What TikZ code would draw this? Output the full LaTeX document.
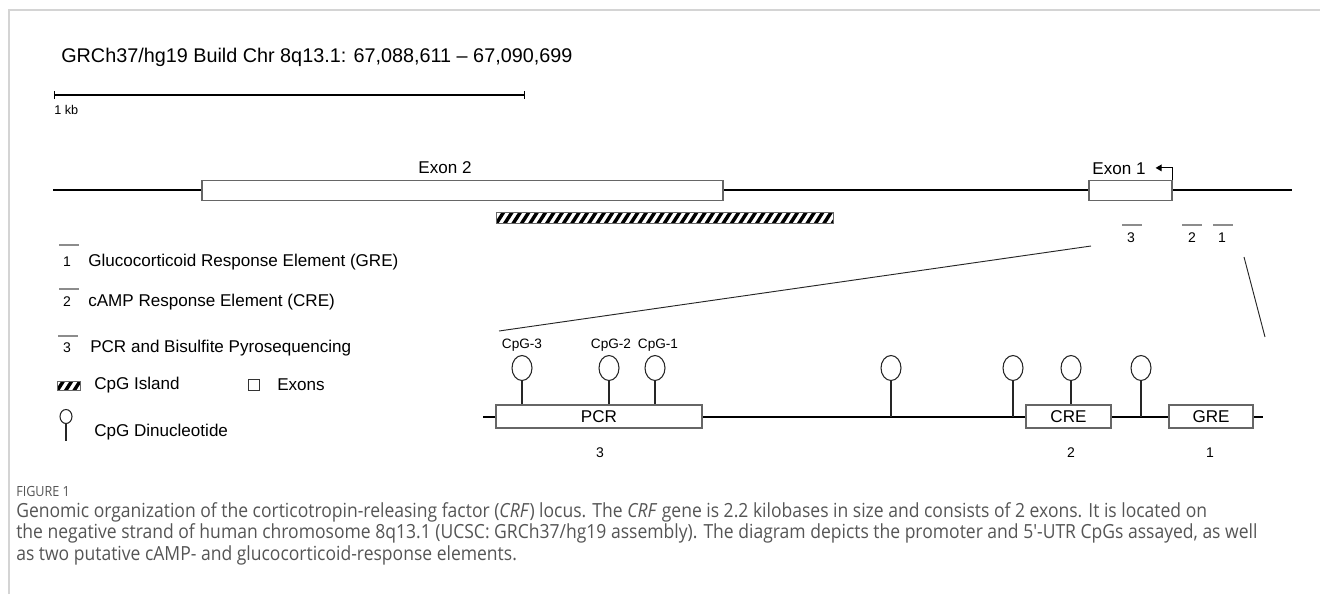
\documentclass[tikz,border=0pt]{standalone}
\usepackage{fontspec}
\setmainfont{Liberation Sans}
\newfontfamily\capfont[FakeStretch=0.9]{Open Sans}
\usetikzlibrary{arrows.meta, shapes.geometric}

\definecolor{framegray}{HTML}{D4D4D4}
\definecolor{boxgray}{HTML}{666666}
\definecolor{sitegray}{HTML}{8C8C8C}
\definecolor{capgray}{HTML}{555555}

\newcommand{\upx}{0.75pt}
% hatched CpG island: left, top, right, bottom
\newcommand{\hatchrect}[4]{%
  \begin{scope}
    \clip (#1,#2) rectangle (#3,#4);
    \fill[white] (#1,#2) rectangle (#3,#4);
    \foreach \hs in {-2,...,42}
      \draw[line width=2.6pt] (#1+\hs*8.4,#4+1) -- (#1+\hs*8.4+0.7*#4-0.7*#2+0.7,#2-1);
  \end{scope}
  \draw[boxgray, line width=0.6pt] (#1,#2) rectangle (#3,#4);}

\begin{document}
\begin{tikzpicture}[x=0.75pt, y=-0.75pt,
    chrom/.style={line width=1.3pt, black},
    track/.style={line width=0.9pt, black},
    exonbox/.style={draw=boxgray, line width=0.9pt, fill=white, inner sep=0pt, minimum height=20*\upx},
    regbox/.style={draw=boxgray, line width=0.9pt, fill=white, inner sep=0pt, minimum height=23*\upx, font=\fontsize{12.8}{14}\selectfont},
    cpgdot/.style={ellipse, draw=black!85, line width=0.8pt, fill=white, inner sep=0pt, minimum width=20*\upx, minimum height=25*\upx},
    stem/.style={line width=0.9pt, black!85},
    sitebar/.style={line width=2.2pt, sitegray},
    zoomline/.style={line width=0.7pt, black!85},
    lbl/.style={inner sep=0pt, font=\fontsize{12.8}{15}\selectfont},
    num/.style={inner sep=0pt, font=\fontsize{10.5}{12}\selectfont},
    cpglbl/.style={inner sep=0pt, font=\fontsize{10.2}{12}\selectfont},
  ]
  \useasboundingbox (0,0) rectangle (1320,594);
  \draw[framegray, line width=1.5pt] (9,594) -- (9,9.5) -- (1320,9.5);

  % header and scale bar
  \node[anchor=base west, inner sep=0pt, font=\fontsize{14.85}{17}\selectfont] (title) at (61,62)
    {GRCh37/hg19 Build Chr 8q13.1: 67,088,611 -- 67,090,699};
  \coordinate (kbL) at (54,95);
  \coordinate (kbR) at (525,95);
  \draw[line width=0.8pt, {Bar[width=5.5pt]}-{Bar[width=5.5pt]}] (kbL) -- (kbR);
  \node[anchor=west, inner sep=0pt, font=\fontsize{9.5}{11}\selectfont] (kb) at (54,110) {1 kb};

  % chromosome
  \coordinate (chrL) at (53,190);
  \coordinate (chrR) at (1292,190);
  \draw[chrom] (chrL) -- (chrR);
  \node[exonbox, minimum width=521*\upx] (exontwo) at (462.5,190.5) {};
  \node[exonbox, minimum width=83*\upx] (exonone) at (1130.5,190.5) {};
  \node[lbl] (exontwolbl) at (445,168) {Exon 2};
  \node[lbl] (exononelbl) at (1119,169) {Exon 1};
  \draw[line width=0.8pt, -{Triangle[length=4.5pt, width=5pt]}] (exonone.north east) -- ++(0,-12) -- ++(-17,0);
  \hatchrect{496}{212}{833}{223}

  % response elements on the chromosome
  \draw[sitebar] (1122,225) -- (1142,225);
  \draw[sitebar] (1182,225) -- (1202,225);
  \draw[sitebar] (1213,225) -- (1233,225);
  \node[num] (sitethree) at (1131,238) {3};
  \node[num] (sitetwo) at (1192,238) {2};
  \node[num] (siteone) at (1222,238) {1};

  % zoom lines
  \coordinate (zoomL) at (1091,246);
  \coordinate (zoomLb) at (499,331);
  \coordinate (zoomR) at (1244,257);
  \coordinate (zoomRb) at (1265,337);
  \draw[zoomline] (zoomL) -- (zoomLb);
  \draw[zoomline] (zoomR) -- (zoomRb);

  % promoter track
  \coordinate (trackL) at (483,417);
  \coordinate (trackR) at (1263,417);
  \draw[track] (trackL) -- (trackR);
  \node[regbox, minimum width=206*\upx] (pcr) at (599,416.5) {PCR};
  \node[regbox, minimum width=85*\upx] (cre) at (1068.5,416.5) {CRE};
  \node[regbox, minimum width=84*\upx] (gre) at (1211,416.5) {GRE};
  \node[num] (pcrnum) at (600,453) {3};
  \node[num] (crenum) at (1071,453) {2};
  \node[num] (grenum) at (1210,453) {1};

  % CpG sites
  \node[cpgdot] (cpgthree) at (522,368) {};
  \node[cpgdot] (cpgtwo) at (609,368) {};
  \node[cpgdot] (cpgone) at (655,368) {};
  \node[cpgdot] (cpgd) at (891,368) {};
  \node[cpgdot] (cpge) at (1013,368) {};
  \node[cpgdot] (cpgf) at (1071,368) {};
  \node[cpgdot] (cpgg) at (1141,368) {};
  \draw[stem] (cpgthree) -- (cpgthree |- pcr.north);
  \draw[stem] (cpgtwo) -- (cpgtwo |- pcr.north);
  \draw[stem] (cpgone) -- (cpgone |- pcr.north);
  \draw[stem] (cpgd) -- (cpgd |- trackL);
  \draw[stem] (cpge) -- (cpge |- trackL);
  \draw[stem] (cpgf) -- (cpgf |- cre.north);
  \draw[stem] (cpgg) -- (cpgg |- trackL);
  \node[cpglbl] (cpgthreelbl) at (522,345) {CpG-3};
  \node[cpglbl] (cpgtwolbl) at (611,345) {CpG-2};
  \node[cpglbl] (cpgonelbl) at (658,345) {CpG-1};

  % legend
  \draw[sitebar] (59,245) -- (79,245);
  \node[num] (legone) at (67,262) {1};
  \node[lbl, anchor=west] (legonetxt) at (88,262) {Glucocorticoid Response Element (GRE)};
  \draw[sitebar] (59,289) -- (79,289);
  \node[num] (legtwo) at (67,302) {2};
  \node[lbl, anchor=west] (legtwotxt) at (88,302) {cAMP Response Element (CRE)};
  \draw[sitebar] (58,336) -- (78,336);
  \node[num] (legthree) at (67,348) {3};
  \node[lbl, anchor=west] (legthreetxt) at (90,348) {PCR and Bisulfite Pyrosequencing};
  \hatchrect{57}{381}{80}{390}
  \node[lbl, anchor=west] (legisland) at (94,385) {CpG Island};
  \node[draw=black!80, line width=0.7pt, inner sep=0pt, minimum size=11*\upx] (legexon) at (253.5,384.5) {};
  \node[lbl, anchor=west] (legexontxt) at (277,385) {Exons};
  \node[cpgdot, minimum width=12*\upx, minimum height=14*\upx] (legdot) at (66,416.5) {};
  \coordinate (legstem) at (66,441);
  \draw[stem] (legdot) -- (legstem);
  \node[lbl, anchor=west] (legdottxt) at (94,432) {CpG Dinucleotide};

  % caption
  \node[anchor=west, inner sep=0pt, font=\capfont\fontsize{10.5}{12}\selectfont, text=capgray] (figlbl) at (16,491) {FIGURE 1};
  \node[anchor=north west, inner sep=0pt, align=left, font=\capfont\fontsize{14.6}{16.2}\selectfont, text=capgray] (caption) at (16,502)
    {Genomic organization of the corticotropin-releasing factor (\textit{CRF}) locus. The \textit{CRF} gene is 2.2 kilobases in size and consists of 2 exons. It is located on\\
     the negative strand of human chromosome 8q13.1 (UCSC: GRCh37/hg19 assembly). The diagram depicts the promoter and 5′-UTR CpGs assayed, as well\\
     as two putative cAMP- and glucocorticoid-response elements.};
\end{tikzpicture}
\end{document}
